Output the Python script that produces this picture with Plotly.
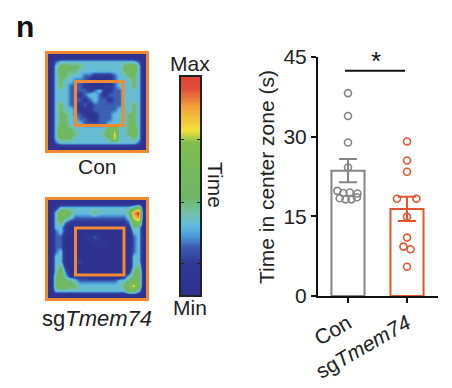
import plotly.graph_objects as go
import numpy as np

W, H = 452, 388
OFF = 8  # page body margin offset
def px(x): return (x - OFF) / W
def py(y): return 1 - (y - OFF) / H

# ---------------- data ----------------
groups = ["Con", "sg<i>Tmem74</i>"]
bar_means = [23.6, 16.4]
bar_sems = [2.2, 2.3]
con_values = [38.2, 33.9, 28.9, 24.2, 19.8, 19.4, 19.5, 19.3, 18.4, 18.2, 18.2, 18.6]
con_offsets = [0.0, 0.0, 0.0, 0.0, -0.18, -0.08, 0.03, 0.16, -0.14, -0.04, 0.06, 0.15]
sg_values = [29.1, 25.5, 23.4, 18.3, 18.3, 14.9, 11.0, 9.3, 8.8, 5.5]
sg_offsets = [0.0, 0.0, 0.0, -0.17, 0.16, 0.0, 0.0, -0.06, 0.06, 0.0]
y_ticks = [0, 15, 30, 45]

con_map_rows = [
    "00000000000000000000",
    "02333333333333333320",
    "03454443333333345530",
    "03544433333333345530",
    "03443332211112334430",
    "03433222100012333430",
    "03432221100112333430",
    "03332222123112233330",
    "03332212332122233330",
    "03332221232212233330",
    "03432212122222233430",
    "03433211122222333430",
    "03443221012223334430",
    "03443322102223334430",
    "03443332222233334430",
    "03544333333356334530",
    "03554433333457334530",
    "03444333333347333430",
    "02333333333333333320",
    "00000000000000000000",
]
sg_map_rows = [
    "00000000000000000000",
    "01333333333333333460",
    "03554333343333334890",
    "03543222222222223780",
    "03421111111111112560",
    "03310000000000001430",
    "02310000000000000330",
    "02200001121000000230",
    "02200000011100000230",
    "02200000001000000230",
    "02300000000000000230",
    "03300000000000000330",
    "03300120000000000330",
    "03410100000000000340",
    "03520000000000001450",
    "04531111000000013450",
    "04544322222222334550",
    "04554433333333346750",
    "03333333333333335530",
    "00000000000000000000",
]
con_map = [[int(c) for c in r] for r in con_map_rows]
sg_map = [[int(c) for c in r] for r in sg_map_rows]

# ---------------- styles ----------------
FONT = "Liberation Sans, Arial, sans-serif"
ORANGE = "#ef8a33"
GRAY = "#858585"
RED = "#e4552f"
cscale = [
    [0.00, "#2e3190"], [0.15, "#2f3a98"], [0.22, "#3a5cb0"], [0.27, "#4a9ad8"],
    [0.32, "#62bce0"], [0.38, "#74c0a4"], [0.45, "#6cb866"], [0.70, "#80bd50"],
    [0.76, "#f2e23a"], [0.87, "#f2a03a"], [0.95, "#e2503a"], [1.00, "#dd4433"],
]

fig = go.Figure()

fig.add_trace(go.Heatmap(z=con_map, colorscale=cscale, zmin=0, zmax=9, showscale=False,
                         zsmooth="best", xaxis="x", yaxis="y", hoverinfo="skip"))
fig.add_trace(go.Heatmap(z=sg_map, colorscale=cscale, zmin=0, zmax=9, showscale=False,
                         zsmooth="best", xaxis="x2", yaxis="y2", hoverinfo="skip"))
grad = np.linspace(0, 9, 100).reshape(-1, 1)
fig.add_trace(go.Heatmap(z=grad, colorscale=cscale, zmin=0, zmax=9, showscale=False,
                         zsmooth="best", xaxis="x3", yaxis="y3", hoverinfo="skip"))

fig.add_trace(go.Bar(x=[0, 1], y=bar_means, width=0.56,
                     marker=dict(color="white", line=dict(color=[GRAY, RED], width=2)),
                     xaxis="x4", yaxis="y4", showlegend=False))
for i, col in enumerate([GRAY, RED]):
    fig.add_trace(go.Scatter(x=[i], y=[bar_means[i]], mode="markers",
                             marker=dict(size=0.1, color=col),
                             error_y=dict(type="data", array=[bar_sems[i]], color=col,
                                          thickness=2, width=9),
                             xaxis="x4", yaxis="y4", showlegend=False))
fig.add_trace(go.Scatter(x=[0 + o for o in con_offsets], y=con_values, mode="markers",
                         marker=dict(symbol="circle-open", size=7, color=GRAY, line=dict(width=1.6)),
                         xaxis="x4", yaxis="y4", showlegend=False))
fig.add_trace(go.Scatter(x=[1 + o for o in sg_offsets], y=sg_values, mode="markers",
                         marker=dict(symbol="circle-open", size=7, color=RED, line=dict(width=1.6)),
                         xaxis="x4", yaxis="y4", showlegend=False))

hide = dict(visible=False, automargin=False)
fig.update_layout(
    width=W, height=H, margin=dict(l=0, r=0, t=0, b=0, pad=0, autoexpand=False),
    paper_bgcolor="white", plot_bgcolor="white", showlegend=False,
    font=dict(family=FONT, color="#222", size=21),
    xaxis=dict(domain=[px(48), px(146)], range=[-0.5, 19.5], **hide),
    yaxis=dict(domain=[py(150), py(54)], range=[19.5, -0.5], **hide),
    xaxis2=dict(domain=[px(48), px(146)], range=[-0.5, 19.5], anchor="y2", **hide),
    yaxis2=dict(domain=[py(298), py(200)], range=[19.5, -0.5], anchor="x2", **hide),
    xaxis3=dict(domain=[px(181), px(200)], range=[-0.5, 0.5], anchor="y3", automargin=False,
                showline=True, mirror=True, linecolor="#222", linewidth=1.5,
                showticklabels=False, ticks="", showgrid=False, zeroline=False),
    yaxis3=dict(domain=[py(295), py(77)], range=[-0.5, 99.5], anchor="x3", automargin=False,
                showline=True, mirror="allticks", linecolor="#222", linewidth=1.5,
                ticks="inside", ticklen=3, tickwidth=1.2, tickcolor="#222",
                tickvals=[14, 42, 71], showticklabels=False, showgrid=False, zeroline=False),
    xaxis4=dict(domain=[px(318), px(438)], range=[-0.508, 1.525], anchor="y4", automargin=False,
                tickvals=[0, 1], ticktext=groups, tickangle=-30,
                showline=True, linecolor="#111", linewidth=2, ticks="outside",
                ticklen=5, tickwidth=2, tickcolor="#111", showgrid=False, zeroline=False,
                tickfont=dict(size=21)),
    yaxis4=dict(domain=[py(296), py(57)], range=[0, 45], anchor="x4", automargin=False,
                tickvals=y_ticks, showline=True, linecolor="#111", linewidth=2,
                ticks="outside", ticklen=5, tickwidth=2, tickcolor="#111",
                showgrid=False, zeroline=False, tickfont=dict(size=21)),
)

shapes = []
for (x0, y0, x1, y1) in [(46.5, 52.5, 147.5, 151.5), (46.5, 198.5, 147.5, 299.5),
                         (75.5, 81.5, 123, 125.5), (75.5, 228, 124, 275)]:
    shapes.append(dict(type="rect", xref="paper", yref="paper",
                       x0=px(x0), x1=px(x1), y0=py(y1), y1=py(y0),
                       line=dict(color=ORANGE, width=3)))
shapes.append(dict(type="line", xref="x4", yref="y4", x0=-0.05, x1=0.966, y0=42.4, y1=42.4,
                   line=dict(color="#111", width=2)))
fig.update_layout(shapes=shapes)

ann = [
    dict(text="<b>n</b>", x=px(25), y=py(26), font=dict(size=30, color="#111")),
    dict(text="Con", x=px(97), y=py(166), font=dict(size=21)),
    dict(text="sg<i>Tmem74</i>", x=px(97), y=py(318), font=dict(size=22)),
    dict(text="Max", x=px(190), y=py(64), font=dict(size=21)),
    dict(text="Min", x=px(190), y=py(307), font=dict(size=21)),
    dict(text="Time", x=px(215), y=py(185), textangle=90, font=dict(size=21)),
    dict(text="Time in center zone (s)", x=px(266), y=py(177), textangle=-90, font=dict(size=21)),
    dict(text="*", x=px(376), y=py(61), font=dict(size=26, color="#111")),
]
for a in ann:
    a.update(xref="paper", yref="paper", showarrow=False, xanchor="center", yanchor="middle")
fig.update_layout(annotations=ann)

fig.write_html("out.html")
